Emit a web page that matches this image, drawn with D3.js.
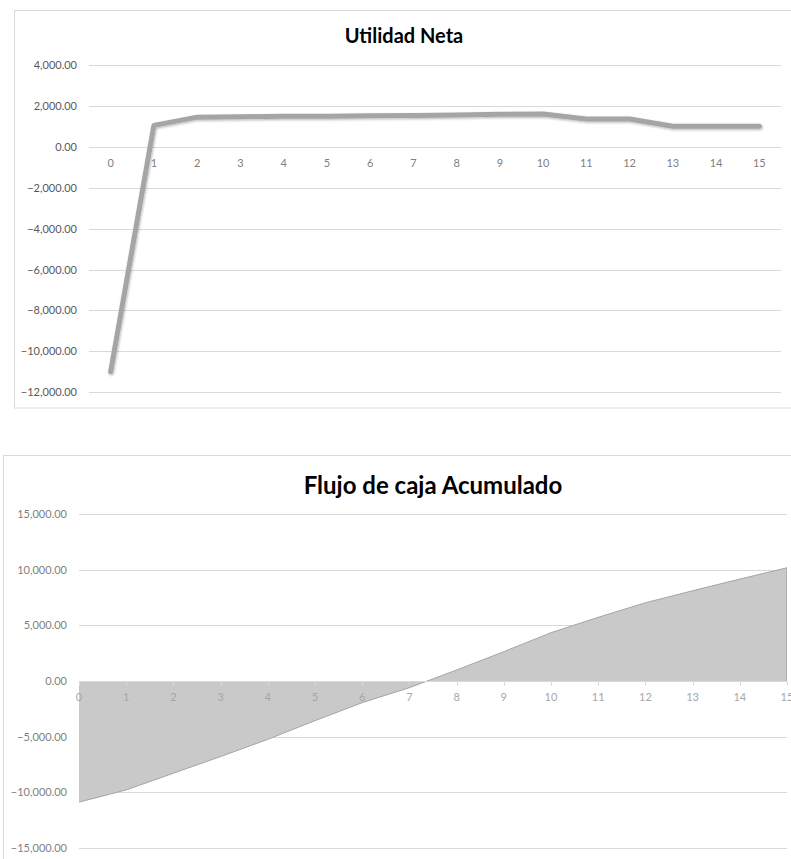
<!DOCTYPE html>
<html>
<head>
<meta charset="utf-8">
<script src="https://cdn.jsdelivr.net/npm/d3@7"></script>
<style>
  html, body { margin: 0; padding: 0; background: #fff; }
  svg { display: block; }
</style>
</head>
<body>
<svg id="chart" width="791" height="859"></svg>
<script>
// ---- data ----
const periods = ["0","1","2","3","4","5","6","7","8","9","10","11","12","13","14","15"];
const utilidadNeta = [-11000, 1050, 1450, 1470, 1490, 1500, 1520, 1530, 1560, 1590, 1600, 1360, 1360, 1010, 1010, 1010];
const flujoAcumulado = [-10900, -9800, -8300, -6800, -5250, -3570, -1950, -600, 990, 2640, 4350, 5730, 7040, 8120, 9170, 10190];
const topTicks = [4000, 2000, 0, -2000, -4000, -6000, -8000, -10000, -12000];
const bottomTicks = [15000, 10000, 5000, 0, -5000, -10000, -15000];
const topTitle = "Utilidad Neta";
const bottomTitle = "Flujo de caja Acumulado";

const fmt = d3.format(",.2f");
const svg = d3.select("#chart");
const FONT = "Lato, 'Open Sans', sans-serif";

// defs: shadow
const defs = svg.append("defs");
const f = defs.append("filter").attr("id", "shadow").attr("x", "-20%").attr("y", "-20%").attr("width", "140%").attr("height", "140%");
f.append("feDropShadow").attr("dx", 0.8).attr("dy", 1.2).attr("stdDeviation", 1.3).attr("flood-color", "#000").attr("flood-opacity", 0.28);

// ================= TOP CHART =================
svg.append("rect").attr("x", 14.5).attr("y", 10.5).attr("width", 800).attr("height", 397.5)
  .attr("fill", "#fff").attr("stroke", "#d9d9d9").attr("stroke-width", 1);

svg.append("text").attr("x", 404).attr("y", 43).attr("text-anchor", "middle")
  .attr("font-family", FONT).attr("font-weight", "bold").attr("font-size", 20).attr("fill", "#000")
  .text(topTitle);

const xTop = d3.scaleBand().domain(periods).range([89, 781]);
const yTop = d3.scaleLinear().domain([-12000, 4000]).range([392.3, 65]);

const gTop = svg.append("g");
gTop.selectAll("line.grid").data(topTicks).join("line")
  .attr("x1", 89).attr("x2", 781)
  .attr("y1", d => Math.round(yTop(d)) + 0.5).attr("y2", d => Math.round(yTop(d)) + 0.5)
  .attr("stroke", "#d9d9d9").attr("stroke-width", 1);

gTop.selectAll("text.ylab").data(topTicks).join("text")
  .attr("x", 77).attr("y", d => yTop(d) + 4)
  .attr("text-anchor", "end").attr("font-family", FONT).attr("font-size", 11).attr("fill", "#595959")
  .text(d => fmt(d));

gTop.selectAll("text.xlab").data(periods).join("text")
  .attr("x", d => xTop(d) + xTop.bandwidth() / 2).attr("y", 167)
  .attr("text-anchor", "middle").attr("font-family", FONT).attr("font-size", 11).attr("fill", "#7f7f7f")
  .text(d => d);

const lineTop = d3.line()
  .x((d, i) => xTop(periods[i]) + xTop.bandwidth() / 2)
  .y(d => yTop(d));
gTop.append("path").datum(utilidadNeta).attr("d", lineTop)
  .attr("fill", "none").attr("stroke", "#a5a5a5").attr("stroke-width", 5)
  .attr("stroke-linejoin", "round").attr("stroke-linecap", "round")
  .attr("filter", "url(#shadow)");

// ================= BOTTOM CHART =================
svg.append("rect").attr("x", 3.5).attr("y", 455.5).attr("width", 800).attr("height", 420)
  .attr("fill", "#fff").attr("stroke", "#d9d9d9").attr("stroke-width", 1);

svg.append("text").attr("x", 433).attr("y", 494).attr("text-anchor", "middle")
  .attr("font-family", FONT).attr("font-weight", "bold").attr("font-size", 24).attr("fill", "#000")
  .text(bottomTitle);

const xBot = d3.scalePoint().domain(periods).range([79, 787]);
const yBot = d3.scaleLinear().domain([-15000, 15000]).range([847.7, 514.3]);

const gBot = svg.append("g");
gBot.selectAll("line.grid").data(bottomTicks.filter(d => d !== 0)).join("line")
  .attr("x1", 79).attr("x2", 787)
  .attr("y1", d => Math.round(yBot(d)) + 0.5).attr("y2", d => Math.round(yBot(d)) + 0.5)
  .attr("stroke", "#d9d9d9").attr("stroke-width", 1);

gBot.selectAll("text.ylab").data(bottomTicks).join("text")
  .attr("x", 67).attr("y", d => yBot(d) + 4)
  .attr("text-anchor", "end").attr("font-family", FONT).attr("font-size", 11).attr("fill", "#7f7f7f")
  .text(d => fmt(d));

const area = d3.area()
  .x((d, i) => xBot(periods[i]))
  .y0(yBot(0))
  .y1(d => yBot(d));
gBot.append("path").datum(flujoAcumulado).attr("d", area)
  .attr("fill", "#c9c9c9").attr("stroke", "none");
const lineBot = d3.line().x((d, i) => xBot(periods[i])).y(d => yBot(d));
gBot.append("path").datum(flujoAcumulado).attr("d", lineBot)
  .attr("fill", "none").attr("stroke", "#a5a5a5").attr("stroke-width", 1);
// right edge of area
gBot.append("line")
  .attr("x1", xBot(periods[periods.length - 1]) - 0.5).attr("x2", xBot(periods[periods.length - 1]) - 0.5)
  .attr("y1", yBot(flujoAcumulado[flujoAcumulado.length - 1])).attr("y2", yBot(0))
  .attr("stroke", "#b0b0b0").attr("stroke-width", 1);

// x axis line and ticks
const y0 = Math.round(yBot(0)) + 0.5;
gBot.append("line").attr("x1", 79).attr("x2", 787).attr("y1", y0).attr("y2", y0)
  .attr("stroke", "#d9d9d9").attr("stroke-width", 1);
gBot.selectAll("line.tick").data(periods).join("line")
  .attr("x1", d => Math.round(xBot(d)) + 0.5).attr("x2", d => Math.round(xBot(d)) + 0.5)
  .attr("y1", y0).attr("y2", y0 + 4)
  .attr("stroke", "#d9d9d9").attr("stroke-width", 1);

gBot.selectAll("text.xlab").data(periods).join("text")
  .attr("x", d => xBot(d)).attr("y", 701)
  .attr("text-anchor", "middle").attr("font-family", FONT).attr("font-size", 11).attr("fill", "#a6a6a6")
  .text(d => d);
</script>
</body>
</html>
